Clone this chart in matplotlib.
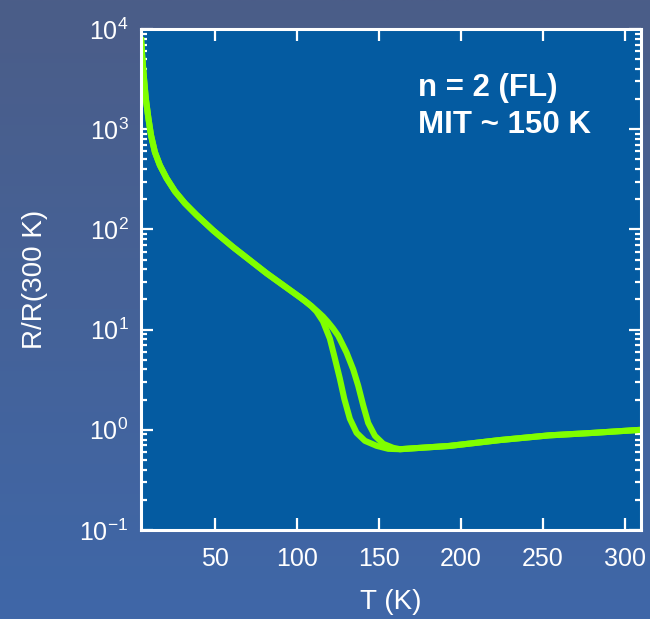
import numpy as np
import matplotlib
matplotlib.use("Agg")
import matplotlib.pyplot as plt
from matplotlib.ticker import FixedLocator, LogLocator, NullFormatter, FixedFormatter

plt.rcParams['font.family'] = ['Liberation Sans', 'DejaVu Sans']
plt.rcParams['mathtext.fontset'] = 'custom'
plt.rcParams['mathtext.rm'] = 'Liberation Sans'
plt.rcParams['mathtext.it'] = 'Liberation Sans'
plt.rcParams['mathtext.bf'] = 'Liberation Sans:bold'

# ---- data ----
T_low = [5, 5.8, 6.8, 7.9, 9.5, 11.1, 13.5, 16.5, 20.6, 25.7, 31.8, 38.9, 49, 61.2, 81.6, 102, 105, 109]
R_low = [8300, 5130, 3240, 2040, 1290, 871, 589, 437, 324, 240, 182, 139, 97.7, 66.5, 36.5, 21.0, 19.3, 17.1]

T_cool = [112, 116, 120.2, 123.3, 126.3, 129, 132.4, 136.5, 141.6, 148.7, 155.8]
R_cool = [15.2, 12.1, 8.13, 5.13, 3.24, 2.04, 1.29, 0.933, 0.776, 0.692, 0.646]

T_warm = [113, 116, 119.2, 122, 125.3, 130.4, 134.5, 137.5, 140.6, 143.6, 147.7, 152.8, 158.8]
R_warm = [15.0, 13.5, 11.8, 10.35, 8.69, 5.89, 3.98, 2.75, 1.74, 1.17, 0.871, 0.724, 0.661]

T_high = [163, 175, 193, 224, 254, 280, 310]
R_high = [0.64, 0.66, 0.69, 0.79, 0.88, 0.93, 1.0]

x_ticks = [50, 100, 150, 200, 250, 300]
y_ticks = [1e-1, 1e0, 1e1, 1e2, 1e3, 1e4]
y_ticklabels = [r'$10^{-1}$', r'$10^{0}$', r'$10^{1}$', r'$10^{2}$', r'$10^{3}$', r'$10^{4}$']
annotation = ["n = 2 (FL)", "MIT ~ 150 K"]

# ---- figure ----
fig = plt.figure(figsize=(6.5, 6.19), dpi=100)

bg = fig.add_axes([0, 0, 1, 1], zorder=0)
top_c = np.array([75, 93, 136]) / 255.0
bot_c = np.array([63, 103, 168]) / 255.0
t = np.linspace(0, 1, 256)[:, None]
grad = (top_c[None, :] * (1 - t) + bot_c[None, :] * t)[:, None, :]
bg.imshow(grad, aspect='auto', extent=[0, 1, 0, 1], origin='upper')
bg.set_axis_off()

ax = fig.add_axes([141/650, 1 - 530/619, 500/650, 501/619], zorder=1)
ax.set_facecolor('#045ba1')

green = '#80ff00'
Tc = T_low + T_cool + T_high
Rc = R_low + R_cool + R_high
Tw = T_low + T_warm + T_high
Rw = R_low + R_warm + R_high
ax.plot(Tc, Rc, color=green, lw=4.4, solid_joinstyle='round', solid_capstyle='butt')
ax.plot(Tw, Rw, color=green, lw=4.4, solid_joinstyle='round', solid_capstyle='butt')

ax.set_yscale('log')
ax.set_xlim(5, 310)
ax.set_ylim(1e-1, 1e4)

ax.xaxis.set_major_locator(FixedLocator(x_ticks))
ax.yaxis.set_major_locator(FixedLocator(y_ticks))
ax.yaxis.set_major_formatter(FixedFormatter(y_ticklabels))
ax.yaxis.set_minor_locator(LogLocator(base=10, subs=np.arange(2, 10), numticks=20))
ax.yaxis.set_minor_formatter(NullFormatter())

for s in ax.spines.values():
    s.set_color('white')
    s.set_linewidth(2.2)

ax.tick_params(axis='both', which='major', direction='in', length=8.5, width=1.6,
               color='white', labelcolor='white', labelsize=18, top=True, right=True)
ax.tick_params(axis='y', which='minor', direction='in', length=4.5, width=1.6,
               color='white', left=True, right=True)
ax.tick_params(axis='x', which='major', pad=12)
ax.tick_params(axis='y', which='major', pad=9)

ax.set_xlabel('T (K)', color='white', fontsize=20)
ax.set_ylabel('R/R(300 K)', color='white', fontsize=20)
ax.xaxis.set_label_coords(0.5, -0.118)
ax.yaxis.set_label_coords(-0.186, 0.5)

ax.text(0.554, 0.866, annotation[0], transform=ax.transAxes, color='white',
        fontsize=22.5, fontweight='bold', va='baseline', ha='left')
ax.text(0.554, 0.793, annotation[1], transform=ax.transAxes, color='white',
        fontsize=22.5, fontweight='bold', va='baseline', ha='left')

fig.savefig('out.png', dpi=100)
